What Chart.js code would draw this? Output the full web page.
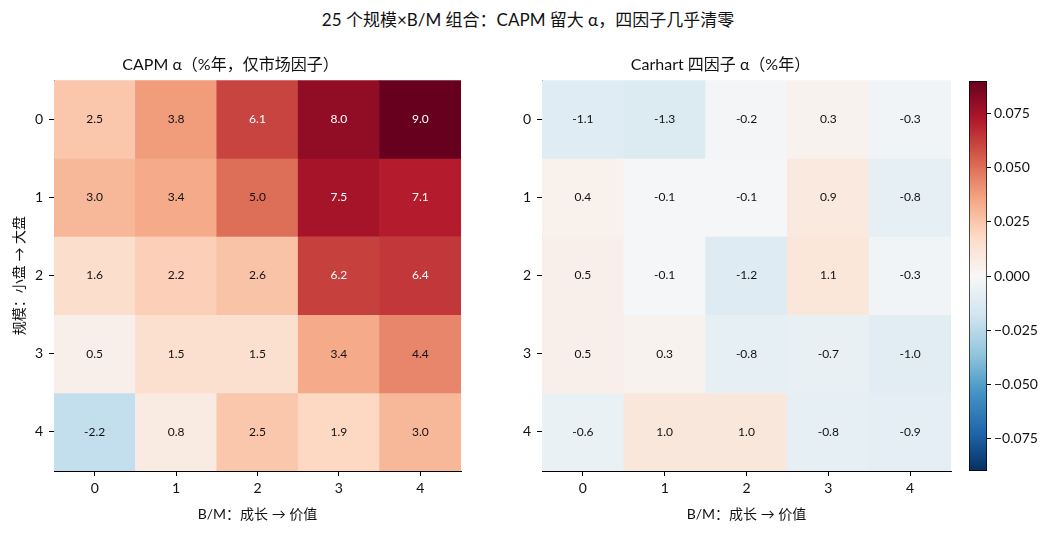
<!DOCTYPE html>
<html>
<head>
<meta charset="utf-8">
<title>25 个规模×B/M 组合</title>
<script src="https://cdn.jsdelivr.net/npm/chart.js"></script>
<style>
  body { margin: 0; background: #fff; width: 1056px; height: 533px; position: relative; overflow: hidden; }
  canvas { position: absolute; top: 0; }
  #title { position: absolute; top: 6px; left: 0; width: 1056px; text-align: center;
           font: 17px Lato, "Noto Sans CJK SC", sans-serif; color: #111; }
</style>
</head>
<body>
<div id="title">25 个规模×B/M 组合：CAPM 留大 α，四因子几乎清零</div>
<canvas id="capm" width="470" height="533" style="left:0"></canvas>
<canvas id="carhart" width="470" height="533" style="left:490px"></canvas>
<canvas id="cbar" width="106" height="533" style="left:950px"></canvas>
<script>
// B/M 分组（列）与规模分组（行）
const bmLabels = ['0', '1', '2', '3', '4'];
const sizeRows = [0, 1, 2, 3, 4];

// 年化 α（%），行 = 规模 0..4，列 = B/M 0..4
const capmAlpha = [
    [2.5, 3.8, 6.1, 8.0, 9.0],
    [3.0, 3.4, 5.0, 7.5, 7.1],
    [1.6, 2.2, 2.6, 6.2, 6.4],
    [0.5, 1.5, 1.5, 3.4, 4.4],
    [-2.2, 0.8, 2.5, 1.9, 3.0]
];
const carhartAlpha = [
    [-1.1, -1.3, -0.2, 0.3, -0.3],
    [0.4, -0.1, -0.1, 0.9, -0.8],
    [0.5, -0.1, -1.2, 1.1, -0.3],
    [0.5, 0.3, -0.8, -0.7, -1.0],
    [-0.6, 1.0, 1.0, -0.8, -0.9]
];

// 色标范围（小数）
const vmax = 0.09;
const cbarTicks = [-0.075, -0.05, -0.025, 0, 0.025, 0.05, 0.075];

const FONT = 'Lato, "Noto Sans CJK SC", sans-serif';
const RDBU = ['#053061', '#2166ac', '#4393c3', '#92c5de', '#d1e5f0', '#f7f7f7',
              '#fddbc7', '#f4a582', '#d6604d', '#b2182b', '#67001f'];

function hex(h) {
    return [1, 3, 5].map(i => parseInt(h.slice(i, i + 2), 16));
}
function cmap(v) {
    let t = (v + vmax) / (2 * vmax);
    t = Math.max(0, Math.min(1, t));
    const p = t * 10;
    const i = Math.min(Math.floor(p), 9);
    const f = p - i;
    const a = hex(RDBU[i]), b = hex(RDBU[i + 1]);
    const c = a.map((x, k) => Math.round(x + (b[k] - x) * f));
    return 'rgb(' + c.join(',') + ')';
}

const cellLabels = {
    id: 'cellLabels',
    afterDatasetsDraw(chart) {
        const grid = chart.options.plugins.cellLabels.grid;
        const {ctx, scales: {x, y}} = chart;
        ctx.save();
        ctx.font = '12px ' + FONT;
        ctx.textAlign = 'center';
        ctx.textBaseline = 'middle';
        grid.forEach((row, r) => {
            row.forEach((v, c) => {
                ctx.fillStyle = Math.abs(v) / 9 > 0.6 ? '#fff' : '#111';
                ctx.fillText(v.toFixed(1), x.getPixelForValue(c), y.getPixelForValue(sizeRows[r]));
            });
        });
        ctx.restore();
    }
};

function heatmap(id, grid, title, yTitle, leftPad) {
    const datasets = grid.map((row, r) => ({
        data: row.map(() => [sizeRows[r] - 0.5, sizeRows[r] + 0.5]),
        backgroundColor: row.map(v => cmap(v / 100)),
        borderWidth: 0,
        borderSkipped: false,
        grouped: false,
        barPercentage: 1,
        categoryPercentage: 1
    }));
    return new Chart(document.getElementById(id), {
        type: 'bar',
        data: { labels: bmLabels, datasets: datasets },
        options: {
            responsive: false,
            animation: false,
            layout: { padding: { left: 0, right: 9, top: 0, bottom: 0 } },
            plugins: {
                legend: { display: false },
                tooltip: { enabled: false },
                title: {
                    display: true, text: title, color: '#111',
                    font: { family: FONT, size: 16, weight: 'normal' },
                    padding: { top: 55, bottom: 6 }
                },
                cellLabels: { grid: grid }
            },
            scales: {
                x: {
                    type: 'category',
                    offset: true,
                    grid: { offset: false, drawOnChartArea: false, drawTicks: true, tickLength: 5, color: '#000' },
                    border: { display: true, color: '#000', width: 1 },
                    ticks: { color: '#111', padding: 4, font: { family: FONT, size: 14 } },
                    title: {
                        display: true, text: 'B/M：成长 → 价值', color: '#111',
                        font: { family: FONT, size: 14 }, padding: { top: 0, bottom: 10 }
                    },
                    afterFit: s => { s.height = 62; }
                },
                y: {
                    type: 'linear',
                    min: -0.5, max: 4.5,
                    reverse: true,
                    grid: { drawOnChartArea: false, drawTicks: true, tickLength: 5, color: '#000' },
                    border: { display: true, color: '#000', width: 1 },
                    ticks: { color: '#111', padding: 6, font: { family: FONT, size: 14 } },
                    afterBuildTicks: s => { s.ticks = sizeRows.map(v => ({ value: v })); },
                    title: {
                        display: !!yTitle, text: yTitle, color: '#111',
                        font: { family: FONT, size: 14 }, padding: { top: 11, bottom: 0 }
                    },
                    afterFit: s => { s.width = leftPad; }
                }
            }
        },
        plugins: [cellLabels]
    });
}

heatmap('capm', capmAlpha, 'CAPM α（%年，仅市场因子）', '规模：小盘 → 大盘', 54);
heatmap('carhart', carhartAlpha, 'Carhart 四因子 α（%年）', '', 52);

// 色标
new Chart(document.getElementById('cbar'), {
    type: 'bar',
    data: {
        labels: [''],
        datasets: [{
            data: [[-vmax, vmax]],
            backgroundColor: ctx => {
                const area = ctx.chart.chartArea;
                if (!area) return '#f7f7f7';
                const g = ctx.chart.ctx.createLinearGradient(0, area.bottom, 0, area.top);
                RDBU.forEach((c, i) => g.addColorStop(i / 10, c));
                return g;
            },
            borderColor: '#000',
            borderWidth: 1,
            borderSkipped: false,
            barPercentage: 1,
            categoryPercentage: 1
        }]
    },
    options: {
        responsive: false,
        animation: false,
        layout: { padding: { left: 19, right: 0, top: 81, bottom: 62 } },
        plugins: { legend: { display: false }, tooltip: { enabled: false } },
        scales: {
            x: { display: false },
            y: {
                position: 'right',
                min: -vmax, max: vmax,
                grid: { drawOnChartArea: false, drawTicks: true, tickLength: 4, color: '#000' },
                border: { display: false },
                ticks: {
                    color: '#111', padding: 3, font: { family: FONT, size: 14 },
                    callback: v => (v < 0 ? '−' : '') + Math.abs(v).toFixed(3)
                },
                afterBuildTicks: s => { s.ticks = cbarTicks.map(v => ({ value: v })); },
                afterFit: s => { s.width = 69; }
            }
        }
    }
});
</script>
</body>
</html>
